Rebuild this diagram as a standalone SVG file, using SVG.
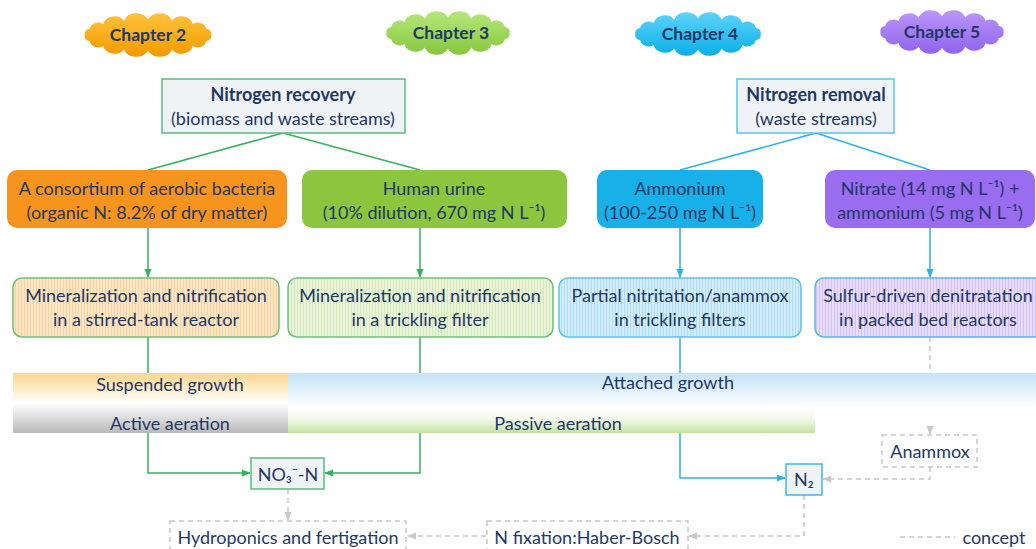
<svg xmlns="http://www.w3.org/2000/svg" width="1036" height="549" viewBox="0 0 1036 549">
<defs>
<style>
text{font-family:Lato,"Liberation Sans",sans-serif;fill:#1F3864;text-anchor:middle}
.t{font-size:18px}
.b{font-weight:bold}
.ch{font-size:17.5px;font-weight:bold}
.g{stroke:#36B15E;stroke-width:1.5;fill:none}
.bl{stroke:#2DB1E6;stroke-width:1.5;fill:none}
.d{stroke:#C8C8C8;stroke-width:1.5;fill:none;stroke-dasharray:5 4}
.hd{fill:#F0F3F6}
</style>
<path id="cloud" d="M-58,0 A5,5 0 0 1 -53.6,-6.5 A8,8 0 0 1 -41,-12 A10.5,10.5 0 0 1 -22,-15.7 A12,12 0 0 1 0,-17 A12,12 0 0 1 22,-15.7 A10.5,10.5 0 0 1 41,-12 A8,8 0 0 1 53.6,-6.5 A5,5 0 0 1 58,0 A5,5 0 0 1 53.6,6.5 A8,8 0 0 1 41,12 A10.5,10.5 0 0 1 22,15.7 A12,12 0 0 1 0,17 A12,12 0 0 1 -22,15.7 A10.5,10.5 0 0 1 -41,12 A8,8 0 0 1 -53.6,6.5 A5,5 0 0 1 -58,0 Z"/>
<linearGradient id="cO" x1="0" y1="0" x2="0" y2="1"><stop offset="0" stop-color="#FFC23A"/><stop offset="1" stop-color="#F29A00"/></linearGradient>
<linearGradient id="cG" x1="0" y1="0" x2="0" y2="1"><stop offset="0" stop-color="#B6E77A"/><stop offset="1" stop-color="#86C83E"/></linearGradient>
<linearGradient id="cB" x1="0" y1="0" x2="0" y2="1"><stop offset="0" stop-color="#5ED3FA"/><stop offset="1" stop-color="#0AAEE8"/></linearGradient>
<linearGradient id="cP" x1="0" y1="0" x2="0" y2="1"><stop offset="0" stop-color="#B996FA"/><stop offset="1" stop-color="#9063EC"/></linearGradient>
<pattern id="hO" width="3" height="10" patternUnits="userSpaceOnUse"><rect width="3" height="10" fill="#FCE6C6"/><rect width="1" height="10" fill="#F6D3A0"/></pattern>
<pattern id="hG" width="3" height="10" patternUnits="userSpaceOnUse"><rect width="3" height="10" fill="#EAF4DC"/><rect width="1" height="10" fill="#D3E9B6"/></pattern>
<pattern id="hB" width="3" height="10" patternUnits="userSpaceOnUse"><rect width="3" height="10" fill="#D3EEFA"/><rect width="1" height="10" fill="#AEDDF2"/></pattern>
<pattern id="hP" width="3" height="10" patternUnits="userSpaceOnUse"><rect width="3" height="10" fill="#E8DDFB"/><rect width="1" height="10" fill="#D2C0F5"/></pattern>
<linearGradient id="gSus" x1="0" y1="0" x2="0" y2="1"><stop offset="0" stop-color="#FBD68C"/><stop offset="0.5" stop-color="#FFFFFF"/><stop offset="1" stop-color="#B9B9B9"/></linearGradient>
<linearGradient id="gAtt" x1="0" y1="0" x2="0" y2="1"><stop offset="0" stop-color="#C6E3F7"/><stop offset="0.6" stop-color="#FFFFFF"/><stop offset="1" stop-color="#FFFFFF"/></linearGradient>
<linearGradient id="gPas" x1="0" y1="0" x2="0" y2="1"><stop offset="0" stop-color="#FFFFFF" stop-opacity="0"/><stop offset="1" stop-color="#C3E09E"/></linearGradient>
<marker id="aG" viewBox="0 0 10 10" refX="9" refY="5" markerWidth="6" markerHeight="6" orient="auto"><path d="M0,1 L10,5 L0,9 Z" fill="#36B15E"/></marker>
<marker id="aB" viewBox="0 0 10 10" refX="9" refY="5" markerWidth="6" markerHeight="6" orient="auto"><path d="M0,1 L10,5 L0,9 Z" fill="#2DB1E6"/></marker>
<marker id="aD" viewBox="0 0 10 10" refX="9" refY="5" markerWidth="6" markerHeight="6" orient="auto"><path d="M0,1 L10,5 L0,9 Z" fill="#C8C8C8"/></marker>
</defs>
<rect width="1036" height="549" fill="#FFFFFF"/>

<g id="bands">
<rect x="13" y="373" width="275" height="60" fill="url(#gSus)"/>
<rect x="288" y="373" width="748" height="60" fill="url(#gAtt)"/>
<rect x="288" y="405" width="527" height="28" fill="url(#gPas)"/>
<text class="t" x="170" y="391">Suspended growth</text>
<text class="t" x="170" y="430">Active aeration</text>
<text class="t" x="668" y="389">Attached growth</text>
<text class="t" x="558" y="430">Passive aeration</text>
</g>

<g id="connectors">
<path class="g" d="M283,133 L148,170"/>
<path class="g" d="M283,133 L420,170"/>
<path class="bl" d="M816,133 L680,170"/>
<path class="bl" d="M816,133 L930,170"/>
<path class="g" d="M148,228 V277" marker-end="url(#aG)"/>
<path class="g" d="M420,228 V277" marker-end="url(#aG)"/>
<path class="bl" d="M680,228 V277" marker-end="url(#aB)"/>
<path class="bl" d="M930,228 V277" marker-end="url(#aB)"/>
<path class="g" d="M148,337 V373"/>
<path class="g" d="M420,337 V373"/>
<path class="bl" d="M680,337 V373"/>
<path class="d" d="M930,337 V373"/>
<path class="g" d="M148,433 V473 H250" marker-end="url(#aG)"/>
<path class="g" d="M420,433 V473 H325" marker-end="url(#aG)"/>
<path class="bl" d="M680,433 V478 H785" marker-end="url(#aB)"/>
<path class="d" d="M930,429 V434" marker-end="url(#aD)"/>
<path class="d" d="M930,467 V479 H823" marker-end="url(#aD)"/>
<path class="d" d="M804,495 V536 H689" marker-end="url(#aD)"/>
<path class="d" d="M486,536 H408" marker-end="url(#aD)"/>
<path class="d" d="M288,489 V520" marker-end="url(#aD)"/>
</g>

<g id="ch2"><use href="#cloud" transform="translate(148,35) scale(1.09,0.92)" fill="url(#cO)"/><text class="ch" x="148" y="41">Chapter 2</text></g>
<g id="ch3"><use href="#cloud" transform="translate(448,33) scale(1.06,0.92)" fill="url(#cG)"/><text class="ch" x="451" y="39">Chapter 3</text></g>
<g id="ch4"><use href="#cloud" transform="translate(698,34) scale(1.08,0.92)" fill="url(#cB)"/><text class="ch" x="700" y="40">Chapter 4</text></g>
<g id="ch5"><use href="#cloud" transform="translate(942,32) scale(1.06,0.92)" fill="url(#cP)"/><text class="ch" x="942" y="38">Chapter 5</text></g>

<g id="recovery"><rect class="hd" x="162" y="79" width="243" height="54" stroke="#5DBB7E" stroke-width="1.5"/><text class="t b" x="283" y="101">Nitrogen recovery</text><text class="t" x="283" y="125">(biomass and waste streams)</text></g>
<g id="removal"><rect class="hd" x="737" y="79" width="157" height="54" stroke="#5BC3EB" stroke-width="1.5"/><text class="t b" x="816" y="101">Nitrogen removal</text><text class="t" x="816" y="125">(waste streams)</text></g>

<g id="bacteria"><rect x="7" y="170" width="280" height="58" rx="10" fill="#F7941D"/><text class="t" x="147" y="195">A consortium of aerobic bacteria</text><text class="t" x="147" y="219">(organic N: 8.2% of dry matter)</text></g>
<g id="urine"><rect x="302" y="170" width="265" height="58" rx="10" fill="#8CC63F"/><text class="t" x="434" y="195">Human urine</text><text class="t" x="434" y="219">(10% dilution, 670 mg N L⁻¹)</text></g>
<g id="ammonium"><rect x="597" y="170" width="166" height="58" rx="10" fill="#17B0E8"/><text class="t" x="680" y="195">Ammonium</text><text class="t" x="680" y="219">(100-250 mg N L⁻¹)</text></g>
<g id="nitrate"><rect x="825" y="170" width="210" height="58" rx="10" fill="#9A6CF0"/><text class="t" x="930" y="195">Nitrate (14 mg N L⁻¹) +</text><text class="t" x="930" y="219">ammonium (5 mg N L⁻¹)</text></g>

<g id="stirred"><rect x="13" y="278" width="266" height="59" rx="9" fill="url(#hO)" stroke="#6CC27A" stroke-width="1.5"/><text class="t" x="146" y="302">Mineralization and nitrification</text><text class="t" x="146" y="326">in a stirred-tank reactor</text></g>
<g id="trickling"><rect x="288" y="278" width="265" height="59" rx="9" fill="url(#hG)" stroke="#6CC27A" stroke-width="1.5"/><text class="t" x="420" y="302">Mineralization and nitrification</text><text class="t" x="420" y="326">in a trickling filter</text></g>
<g id="pna"><rect x="559" y="278" width="242" height="59" rx="9" fill="url(#hB)" stroke="#5BC3EB" stroke-width="1.5"/><text class="t" x="680" y="302">Partial nitritation/anammox</text><text class="t" x="680" y="326">in trickling filters</text></g>
<g id="sulfur"><rect x="815" y="278" width="232" height="59" rx="9" fill="url(#hP)" stroke="#5BB6E8" stroke-width="1.5"/><text class="t" x="928" y="302">Sulfur-driven denitratation</text><text class="t" x="928" y="326">in packed bed reactors</text></g>

<g id="no3"><rect class="hd" x="251" y="458" width="73" height="31" stroke="#5DBB7E" stroke-width="1.5"/><text class="t" x="288" y="481">NO₃⁻-N</text></g>
<g id="n2"><rect class="hd" x="786" y="464" width="36" height="31" stroke="#3DB6E8" stroke-width="1.5"/><text class="t" x="804" y="486">N₂</text></g>
<g id="anammox"><rect x="882" y="435" width="95" height="32" fill="none" class="d"/><text class="t" x="930" y="458">Anammox</text></g>
<g id="hydroponics"><rect x="170" y="521" width="236" height="40" class="d"/><text class="t" x="288" y="544">Hydroponics and fertigation</text></g>
<g id="haber"><rect x="487" y="521" width="201" height="40" class="d"/><text class="t" x="587" y="544">N fixation:Haber-Bosch</text></g>
<g id="legend"><path class="d" d="M900,537 H955"/><text class="t" x="994" y="544">concept</text></g>
</svg>
